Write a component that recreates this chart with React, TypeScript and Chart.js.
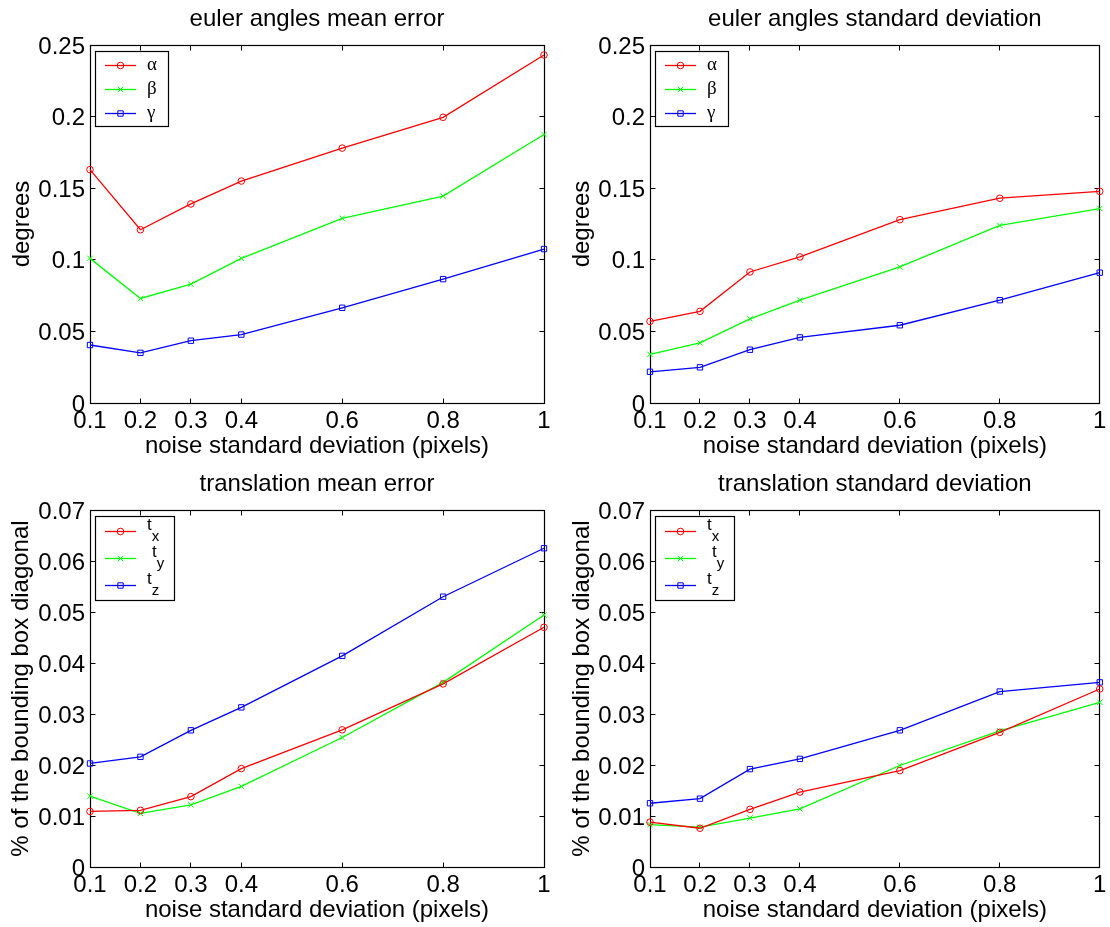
import React, { useEffect, useRef } from 'react';
import { Chart, registerables } from 'chart.js';

Chart.register(...registerables);

// ---------------- data ----------------
const noiseLevels = [0.1, 0.2, 0.3, 0.4, 0.6, 0.8, 1];
const xTickValues = [0.1, 0.2, 0.3, 0.4, 0.6, 0.8, 1];

const eulerMeanAlpha = [0.163, 0.121, 0.139, 0.155, 0.178, 0.1995, 0.243];
const eulerMeanBeta = [0.101, 0.073, 0.083, 0.101, 0.129, 0.1445, 0.1875];
const eulerMeanGamma = [0.0405, 0.035, 0.0435, 0.0478, 0.0665, 0.0865, 0.1075];

const eulerStdAlpha = [0.057, 0.064, 0.0915, 0.102, 0.128, 0.143, 0.1478];
const eulerStdBeta = [0.034, 0.042, 0.0588, 0.0718, 0.095, 0.124, 0.1358];
const eulerStdGamma = [0.0218, 0.0249, 0.0372, 0.0458, 0.0543, 0.0718, 0.091];

const transMeanX = [0.0109, 0.0111, 0.0138, 0.0193, 0.0269, 0.0359, 0.047];
const transMeanY = [0.0139, 0.0105, 0.0122, 0.0158, 0.0254, 0.0362, 0.0494];
const transMeanZ = [0.0203, 0.0216, 0.0268, 0.0313, 0.0414, 0.053, 0.0625];

const transStdX = [0.0088, 0.0076, 0.0113, 0.0147, 0.0189, 0.0264, 0.0349];
const transStdY = [0.0083, 0.0078, 0.0096, 0.0114, 0.0199, 0.0267, 0.0323];
const transStdZ = [0.0125, 0.0134, 0.0192, 0.0212, 0.0268, 0.0344, 0.0362];

const eulerLabels = ['α', 'β', 'γ'];
const transLabels = ['t', 't', 't'];
const transSubscripts = ['x', 'y', 'z'];

const titles = [
  'euler angles mean error',
  'euler angles standard deviation',
  'translation mean error',
  'translation standard deviation',
];
const xAxisTitle = 'noise standard deviation (pixels)';
const yAxisTitles = ['degrees', 'degrees', '% of the bounding box diagonal', '% of the bounding box diagonal'];

const eulerYMax = 0.25;
const eulerYStep = 0.05;
const transYMax = 0.07;
const transYStep = 0.01;

// ---------------- styles ----------------
const SANS = "'Liberation Sans', Arial, Helvetica, sans-serif";
const SERIF = "'Liberation Serif', 'DejaVu Serif', serif";
const FONT = 24;
const LH = FONT * 1.2;
const seriesColors = ['#ff0000', '#00ff00', '#0000ff'];
const seriesMarkers = ['circle', 'crossRot', 'rect'];
const markerRadius = [3.3, 3.8, 3.8];
const lineWidth = 1.3;

const eulerLegend = { w: 73, h: 75, rows: [14, 38, 62], textX: 52, subDx: [0, 0, 0], greek: true };
const transLegend = { w: 79, h: 84, rows: [15, 42, 69], textX: 52, subDx: [0, 5, 0], greek: false };

const panelLayouts = [
  { ox: 0, oy: 0, w: 555, h: 463, L: 90, R: 544, T: 45, B: 403, titleY: 19, xTitleY: 446, yTitleX: 22, tickY: 421 },
  { ox: 555, oy: 0, w: 555, h: 463, L: 650, R: 1103, T: 45, B: 403, titleY: 19, xTitleY: 446, yTitleX: 582, tickY: 421 },
  { ox: 0, oy: 463, w: 555, h: 464, L: 90, R: 544, T: 510, B: 867, titleY: 484, xTitleY: 910, yTitleX: 21, tickY: 885 },
  { ox: 555, oy: 463, w: 555, h: 464, L: 650, R: 1103, T: 510, B: 867, titleY: 484, xTitleY: 910, yTitleX: 582, tickY: 885 },
];

const fmt = (v: number) => String(Number(v.toFixed(4)));

const crisp = (v: number) => Math.round(v - 0.5) + 0.5;

function drawMarker(ctx: CanvasRenderingContext2D, style: string, x: number, y: number, r: number) {
  ctx.beginPath();
  if (style === 'circle') {
    ctx.arc(x, y, r, 0, Math.PI * 2);
  } else if (style === 'rect') {
    const s = Math.SQRT1_2 * r;
    ctx.rect(x - s, y - s, 2 * s, 2 * s);
  } else {
    const s = Math.SQRT1_2 * r;
    ctx.moveTo(x - s, y - s);
    ctx.lineTo(x + s, y + s);
    ctx.moveTo(x - s, y + s);
    ctx.lineTo(x + s, y - s);
  }
  ctx.stroke();
}

const matlabPlugin = {
  id: 'matlabBox',
  beforeDatasetsDraw(chart: any) {
    const { ctx, chartArea } = chart;
    const { left, right, top, bottom } = chartArea;
    ctx.save();
    ctx.strokeStyle = '#000';
    ctx.lineWidth = 1.2;
    const l = crisp(left), r = crisp(right), t = crisp(top), b = crisp(bottom);
    ctx.strokeRect(l, t, r - l, b - t);
    const tl = 5;
    const xs = chart.scales.x;
    const ys = chart.scales.y;
    ctx.lineWidth = 1;
    ctx.beginPath();
    xs.ticks.forEach((tk: any) => {
      const px = crisp(xs.getPixelForValue(tk.value));
      ctx.moveTo(px, b);
      ctx.lineTo(px, b - tl);
      ctx.moveTo(px, t);
      ctx.lineTo(px, t + tl);
    });
    ys.ticks.forEach((tk: any) => {
      const py = crisp(ys.getPixelForValue(tk.value));
      ctx.moveTo(l, py);
      ctx.lineTo(l + tl, py);
      ctx.moveTo(r, py);
      ctx.lineTo(r - tl, py);
    });
    ctx.stroke();
    ctx.restore();
  },
  afterDatasetsDraw(chart: any, _args: any, opts: any) {
    const lg = opts.legend;
    if (!lg) return;
    const { ctx, chartArea } = chart;
    const x0 = Math.round(chartArea.left) + 5;
    const y0 = Math.round(chartArea.top) + 6;
    ctx.save();
    ctx.fillStyle = '#fff';
    ctx.fillRect(x0, y0, lg.w, lg.h);
    ctx.strokeStyle = '#000';
    ctx.lineWidth = 1.2;
    ctx.strokeRect(x0 + 0.5, y0 + 0.5, lg.w, lg.h);
    chart.data.datasets.forEach((ds: any, i: number) => {
      const ry = y0 + lg.rows[i] + 0.5;
      ctx.strokeStyle = ds.borderColor;
      ctx.lineWidth = lineWidth;
      ctx.beginPath();
      ctx.moveTo(x0 + 10, ry);
      ctx.lineTo(x0 + 41, ry);
      ctx.stroke();
      ctx.lineWidth = 1;
      drawMarker(ctx, ds.pointStyle, x0 + 25.5, ry, ds.pointRadius);
      ctx.fillStyle = '#000';
      ctx.textAlign = 'left';
      ctx.textBaseline = 'middle';
      if (lg.greek) {
        ctx.font = `19px ${SERIF}`;
        ctx.fillText(ds.label, x0 + lg.textX, ry);
      } else {
        const tx = x0 + lg.textX + lg.subDx[i];
        ctx.font = `17px ${SANS}`;
        ctx.fillText(ds.label, tx, ry - 6);
        const wT = ctx.measureText(ds.label).width;
        ctx.font = `15px ${SANS}`;
        ctx.fillText(ds.sub, tx + wT, ry + 5);
      }
    });
    ctx.restore();
  },
};

type PanelProps = { index: number };

function Panel({ index }: PanelProps) {
  const ref = useRef<HTMLCanvasElement | null>(null);
  const P = panelLayouts[index];
  useEffect(() => {
    if (!ref.current) return;
    const isEuler = index < 2;
    let seriesValues: number[][];
    if (index === 0) seriesValues = [eulerMeanAlpha, eulerMeanBeta, eulerMeanGamma];
    else if (index === 1) seriesValues = [eulerStdAlpha, eulerStdBeta, eulerStdGamma];
    else if (index === 2) seriesValues = [transMeanX, transMeanY, transMeanZ];
    else seriesValues = [transStdX, transStdY, transStdZ];
    const labels = isEuler ? eulerLabels : transLabels;

    const datasets = seriesValues.map((vals, i) => ({
      label: labels[i],
      sub: isEuler ? '' : transSubscripts[i],
      data: noiseLevels.map((x, j) => ({ x, y: vals[j] })),
      borderColor: seriesColors[i],
      backgroundColor: 'rgba(0,0,0,0)',
      borderWidth: lineWidth,
      pointStyle: seriesMarkers[i],
      pointRadius: markerRadius[i],
      pointBorderWidth: 1,
      pointBorderColor: seriesColors[i],
      pointBackgroundColor: 'rgba(0,0,0,0)',
      tension: 0,
      clip: false,
    }));

    const titlePadTop = P.titleY - P.oy - LH / 2;
    const titlePadBottom = P.T - P.oy - titlePadTop - LH;

    const chart = new Chart(ref.current, {
      type: 'line',
      data: { datasets } as any,
      options: {
        animation: false,
        responsive: false,
        maintainAspectRatio: false,
        color: '#000',
        layout: { padding: { left: 0, top: 0, bottom: 0, right: P.ox + P.w - P.R } },
        plugins: {
          legend: { display: false },
          tooltip: { enabled: false },
          title: {
            display: true,
            text: titles[index],
            color: '#000',
            fullSize: false,
            font: { family: SANS, size: FONT, weight: 'normal', lineHeight: 1.2 },
            padding: { top: titlePadTop, bottom: titlePadBottom },
          },
          matlabBox: { legend: isEuler ? eulerLegend : transLegend },
        } as any,
        scales: {
          x: {
            type: 'linear',
            min: 0.1,
            max: 1,
            grid: { display: false, drawTicks: false, tickLength: 0 },
            border: { display: false },
            afterBuildTicks: (s: any) => {
              s.ticks = xTickValues.map((v) => ({ value: v }));
            },
            afterFit: (s: any) => {
              s.height = P.oy + P.h - P.B;
            },
            ticks: {
              autoSkip: false,
              maxRotation: 0,
              minRotation: 0,
              color: '#000',
              padding: P.tickY - P.B - LH / 2,
              font: { family: SANS, size: FONT, lineHeight: 1.2 },
              callback: (v: any) => fmt(Number(v)),
            },
            title: {
              display: true,
              text: xAxisTitle,
              color: '#000',
              font: { family: SANS, size: FONT, lineHeight: 1.2 },
              padding: { top: 0, bottom: P.oy + P.h - P.xTitleY - LH / 2 },
            },
          },
          y: {
            type: 'linear',
            min: 0,
            max: isEuler ? eulerYMax : transYMax,
            grid: { display: false, drawTicks: false, tickLength: 0 },
            border: { display: false },
            afterFit: (s: any) => {
              s.width = P.L - P.ox;
            },
            ticks: {
              stepSize: isEuler ? eulerYStep : transYStep,
              autoSkip: false,
              color: '#000',
              padding: 5,
              labelOffset: 2,
              font: { family: SANS, size: FONT, lineHeight: 1.2 },
              callback: (v: any) => fmt(Number(v)),
            },
            title: {
              display: true,
              text: yAxisTitles[index],
              color: '#000',
              font: { family: SANS, size: FONT, lineHeight: 1.2 },
              padding: { top: P.yTitleX - P.ox - LH / 2, bottom: 0 },
            },
          },
        },
      } as any,
      plugins: [matlabPlugin],
    });
    return () => chart.destroy();
  }, [index]);

  return (
    <canvas
      ref={ref}
      width={P.w}
      height={P.h}
      style={{ position: 'absolute', left: P.ox, top: P.oy, width: P.w, height: P.h, display: 'block' }}
    />
  );
}

export default function App() {
  return (
    <div
      style={{
        position: 'absolute',
        left: 0,
        top: 0,
        width: 1110,
        height: 927,
        overflow: 'hidden',
        background: '#fff',
      }}
    >
      {[0, 1, 2, 3].map((i) => (
        <Panel key={i} index={i} />
      ))}
    </div>
  );
}
